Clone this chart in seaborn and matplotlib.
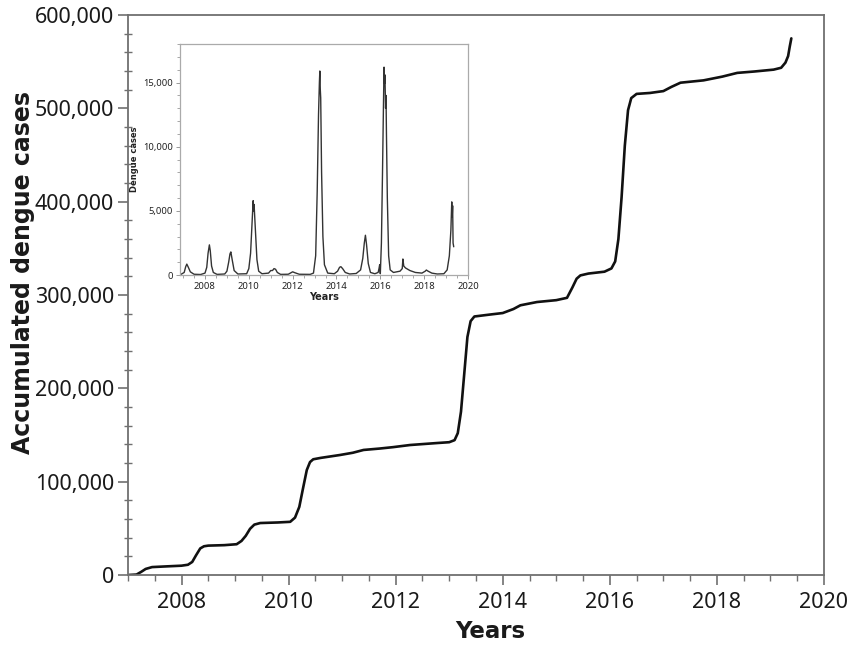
import matplotlib
matplotlib.use("Agg")
import matplotlib.pyplot as plt
from matplotlib.ticker import MultipleLocator, FuncFormatter
import seaborn as sns
import pandas as pd

# ---- main chart: accumulated dengue cases ----
cum_year = [2007.00, 2007.16, 2007.25, 2007.33, 2007.45, 2007.70, 2008.00, 2008.12,
            2008.20, 2008.27, 2008.35, 2008.42, 2008.50, 2008.80, 2009.03, 2009.12,
            2009.20, 2009.28, 2009.36, 2009.47, 2009.80, 2010.03, 2010.12, 2010.20,
            2010.27, 2010.34, 2010.40, 2010.46, 2010.60, 2010.96, 2011.20, 2011.40,
            2011.70, 2011.95, 2012.27, 2012.77, 2013.00, 2013.10, 2013.16, 2013.22,
            2013.28, 2013.34, 2013.40, 2013.47, 2013.75, 2014.00, 2014.20, 2014.33,
            2014.64, 2015.00, 2015.20, 2015.30, 2015.38, 2015.45, 2015.60, 2015.90,
            2016.03, 2016.10, 2016.16, 2016.22, 2016.28, 2016.34, 2016.40, 2016.50,
            2016.75, 2017.00, 2017.15, 2017.32, 2017.75, 2018.10, 2018.38, 2018.70,
            2019.06, 2019.20, 2019.28, 2019.33, 2019.36, 2019.39]
cum_cases = [0, 500, 3500, 6500, 8500, 9200, 10000, 11000,
             14000, 21000, 28500, 30800, 31500, 32000, 33000, 36500,
             42000, 49500, 54000, 55700, 56300, 57000, 61500, 73000,
             93000, 112500, 121000, 124000, 125500, 128600, 131000, 134000,
             135500, 137000, 139300, 141400, 142300, 144500, 152000, 175000,
             215000, 255000, 272000, 277000, 279000, 280700, 285000, 289000,
             292500, 294500, 297000, 308000, 317500, 321000, 323000, 325000,
             328500, 336000, 360000, 405000, 460000, 498000, 511000, 515500,
             516500, 518500, 523000, 527500, 530000, 534000, 538000, 539500,
             541500, 543500, 549000, 556000, 566000, 575000]

# ---- inset: weekly dengue cases ----
wk_year = [2006.90, 2007.05, 2007.12, 2007.17, 2007.24, 2007.33, 2007.50, 2007.80,
           2008.00, 2008.08, 2008.14, 2008.20, 2008.24, 2008.30, 2008.38, 2008.55,
           2008.90, 2009.00, 2009.08, 2009.14, 2009.18, 2009.24, 2009.33, 2009.50,
           2009.90, 2010.00, 2010.08, 2010.14, 2010.18, 2010.20, 2010.22, 2010.24,
           2010.30, 2010.37, 2010.45, 2010.60, 2010.90, 2011.00, 2011.08, 2011.15,
           2011.22, 2011.30, 2011.45, 2011.80, 2012.00, 2012.10, 2012.30, 2012.80,
           2012.95, 2013.05, 2013.12, 2013.18, 2013.22, 2013.24, 2013.26, 2013.28,
           2013.32, 2013.38, 2013.45, 2013.60, 2013.90, 2014.05, 2014.14, 2014.20,
           2014.28, 2014.40, 2014.60, 2014.90, 2015.10, 2015.20, 2015.27, 2015.32,
           2015.37, 2015.45, 2015.55, 2015.75, 2015.90, 2015.94, 2015.97, 2016.00,
           2016.05, 2016.10, 2016.15, 2016.17, 2016.19, 2016.21, 2016.24, 2016.26,
           2016.28, 2016.32, 2016.38, 2016.45, 2016.60, 2016.90, 2017.00, 2017.03,
           2017.07, 2017.15, 2017.35, 2017.60, 2017.90, 2018.05, 2018.10, 2018.18,
           2018.35, 2018.60, 2018.90, 2019.05, 2019.15, 2019.22, 2019.26, 2019.28,
           2019.30, 2019.32, 2019.35]
wk_cases = [50, 200, 650, 850, 600, 250, 60, 40,
            150, 600, 1700, 2350, 1900, 700, 200, 50,
            80, 300, 1000, 1650, 1800, 1200, 350, 80,
            100, 500, 1700, 3800, 5200, 5800, 5000, 5500,
            3500, 1200, 300, 100, 150, 350, 350, 500,
            450, 200, 50, 60, 250, 180, 60, 50,
            150, 1500, 6500, 12500, 15000, 15900, 14500, 13800,
            8000, 3000, 800, 150, 100, 300, 600, 650,
            500, 200, 80, 120, 400, 1300, 2500, 3100,
            2400, 900, 200, 100, 200, 500, 800, 100,
            2500, 8000, 14000, 16200, 14900, 15600, 13000, 14000,
            11000, 6000, 1500, 400, 200, 300, 500, 1250,
            700, 550, 350, 200, 150, 300, 390, 300,
            150, 80, 100, 400, 1500, 3500, 5700, 4500,
            5400, 2500, 2200]

df_cum = pd.DataFrame({"year": cum_year, "cases": cum_cases})
df_wk = pd.DataFrame({"year": wk_year, "cases": wk_cases})

sns.set_theme(style="white")
plt.rcParams["font.family"] = ["Noto Sans", "DejaVu Sans"]

fig = plt.figure(figsize=(8.56, 6.45), dpi=100)
ax = fig.add_axes([0.1495, 0.1085, 0.8131, 0.8682])

sns.lineplot(data=df_cum, x="year", y="cases", ax=ax, color="#111111",
             linewidth=1.9, estimator=None, sort=False,
             solid_joinstyle="round", solid_capstyle="round")

ax.set_xlim(2007, 2020)
ax.set_ylim(0, 600000)
ax.xaxis.set_major_locator(MultipleLocator(2))
ax.xaxis.set_minor_locator(MultipleLocator(0.5))
ax.yaxis.set_major_locator(MultipleLocator(100000))
ax.yaxis.set_minor_locator(MultipleLocator(20000))
ax.yaxis.set_major_formatter(FuncFormatter(lambda v, p: f"{int(v):,}"))
ax.xaxis.set_major_formatter(FuncFormatter(lambda v, p: f"{int(round(v))}"))

for s in ax.spines.values():
    s.set_color("#707070")
    s.set_linewidth(1.3)
ax.tick_params(axis="both", which="major", direction="out", length=7,
               width=1.2, color="#707070", labelsize=15.5, labelcolor="#1a1a1a", pad=3)
ax.tick_params(axis="x", which="major", pad=5)
ax.tick_params(axis="x", which="minor", direction="out", length=4, width=1.0,
               color="#707070", bottom=True)
ax.tick_params(axis="y", which="minor", direction="inout", length=6, width=1.0,
               color="#707070", left=True)
ax.tick_params(axis="x", which="major", bottom=True)
ax.tick_params(axis="y", which="major", left=True)

ax.set_xlabel("Years", fontsize=16.5, fontweight="bold", color="#1a1a1a",
              family=["DejaVu Sans"])
ax.set_ylabel("Accumulated dengue cases", fontsize=17, fontweight="bold",
              color="#1a1a1a", family=["DejaVu Sans"])
ax.xaxis.set_label_coords(0.52, -0.080)
ax.yaxis.set_label_coords(-0.134, 0.541)

# ---- inset ----
axin = fig.add_axes([0.2103, 0.5736, 0.3364, 0.3581])
sns.lineplot(data=df_wk, x="year", y="cases", ax=axin, color="#333333",
             linewidth=1.0, estimator=None, sort=False)
axin.set_xlim(2006.86, 2020)
axin.set_ylim(0, 18000)
axin.xaxis.set_major_locator(MultipleLocator(2))
axin.xaxis.set_minor_locator(MultipleLocator(0.5))
axin.yaxis.set_major_locator(MultipleLocator(5000))
axin.yaxis.set_minor_locator(MultipleLocator(1000))
axin.yaxis.set_major_formatter(FuncFormatter(lambda v, p: f"{int(v):,}"))
axin.xaxis.set_major_formatter(FuncFormatter(lambda v, p: f"{int(round(v))}"))
for s in axin.spines.values():
    s.set_color("#aaaaaa")
    s.set_linewidth(0.9)
axin.tick_params(axis="both", which="major", direction="out", length=3, width=0.7,
                 color="#999999", labelsize=6.8, labelcolor="#222222", pad=2,
                 bottom=True, left=True)
axin.tick_params(axis="both", which="minor", direction="out", length=2, width=0.6,
                 color="#999999", bottom=True, left=True)
axin.set_xlabel("Years", fontsize=7, fontweight="bold", family=["DejaVu Sans"],
                labelpad=1, color="#222222")
axin.set_ylabel("Dengue cases", fontsize=6, fontweight="bold", family=["DejaVu Sans"],
                labelpad=3, color="#222222")

fig.savefig("out.png", dpi=100)
